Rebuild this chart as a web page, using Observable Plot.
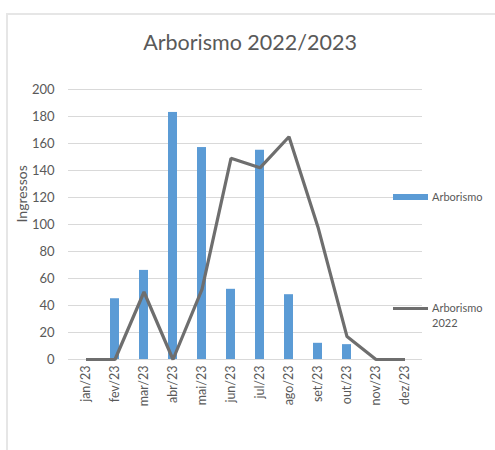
<!DOCTYPE html>
<html>
<head>
<meta charset="utf-8">
<script src="https://cdn.jsdelivr.net/npm/d3@7"></script>
<script src="https://cdn.jsdelivr.net/npm/@observablehq/plot@0.6"></script>
<style>
  html, body { margin: 0; padding: 0; background: #fff; }
  #wrap { position: relative; width: 495px; height: 450px; overflow: hidden; font-family: Lato, "Open Sans", sans-serif; color: #595959; }
  #frame { position: absolute; left: 6px; top: 13px; width: 500px; height: 450px; border-left: 2px solid #e6e6e6; border-top: 2px solid #e6e6e6; box-sizing: border-box; }
  #title { position: absolute; left: 0; width: 500px; top: 29px; text-align: center; font-size: 21.5px; color: #595959; }
  #chart { position: absolute; left: 0; top: 0; }
  .leg { position: absolute; font-size: 11px; color: #595959; line-height: 15px; }
  .sw { position: absolute; }
</style>
</head>
<body>
<div id="wrap">
  <div id="frame"></div>
  <div id="chart"></div>
  <div id="title">Arborismo 2022/2023</div>
</div>
<script>
const months = ["jan/23","fev/23","mar/23","abr/23","mai/23","jun/23","jul/23","ago/23","set/23","out/23","nov/23","dez/23"];
const arborismo = [0, 45, 66, 183, 157, 52, 155, 48, 12, 11, 0, 0];
const arborismo2022 = [0, 0, 50, 0, 52, 149, 142, 165, 98, 17, 0, 0];
const yTicks = [0, 20, 40, 60, 80, 100, 120, 140, 160, 180, 200];
const seriesNames = ["Arborismo", "Arborismo 2022"];

const barData = months.map((m, i) => ({month: m, value: arborismo[i]}));
const lineData = months.map((m, i) => ({month: m, value: arborismo2022[i]}));

const plot = Plot.plot({
  width: 495,
  height: 450,
  marginTop: 89,
  marginBottom: 91,
  marginLeft: 68,
  marginRight: 73,
  style: {fontFamily: "Lato, 'Open Sans', sans-serif", fontSize: "12px", color: "#595959", background: "transparent"},
  x: {type: "band", domain: months, paddingInner: 0.7, paddingOuter: 0.35},
  y: {domain: [0, 200]},
  marks: [
    Plot.gridY(yTicks, {stroke: "#d9d9d9", strokeOpacity: 1, strokeWidth: 1}),
    Plot.axisY({ticks: yTicks, tickSize: 0, tickPadding: 14, label: null, fontSize: 13}),
    Plot.axisX({tickRotate: -90, tickSize: 0, tickPadding: 6, label: null, fontSize: 12.5}),
    Plot.barY(barData, {x: "month", y: "value", fill: "#5b9bd5"}),
    Plot.line(lineData, {x: "month", y: "value", stroke: "#6e6e6e", strokeWidth: 3.2, strokeLinejoin: "miter", strokeLinecap: "butt"}),
    Plot.text(["Ingressos"], {frameAnchor: "left", dx: -46, dy: -2, rotate: -90, fontSize: 14, fill: "#595959"})
  ]
});
document.getElementById("chart").appendChild(plot);

const wrap = document.getElementById("wrap");
function addLegend(y, color, h, lines) {
  const sw = document.createElement("div");
  sw.className = "sw";
  sw.style.left = "393px"; sw.style.width = "35px";
  sw.style.top = (y - h / 2) + "px"; sw.style.height = h + "px";
  sw.style.background = color;
  wrap.appendChild(sw);
  const lab = document.createElement("div");
  lab.className = "leg";
  lab.style.left = "432px";
  lab.style.top = (y - 8) + "px";
  lab.innerHTML = lines.join("<br>");
  wrap.appendChild(lab);
}
addLegend(197, "#5b9bd5", 6, [seriesNames[0]]);
addLegend(308, "#6e6e6e", 3, ["Arborismo", "2022"]);
</script>
</body>
</html>
